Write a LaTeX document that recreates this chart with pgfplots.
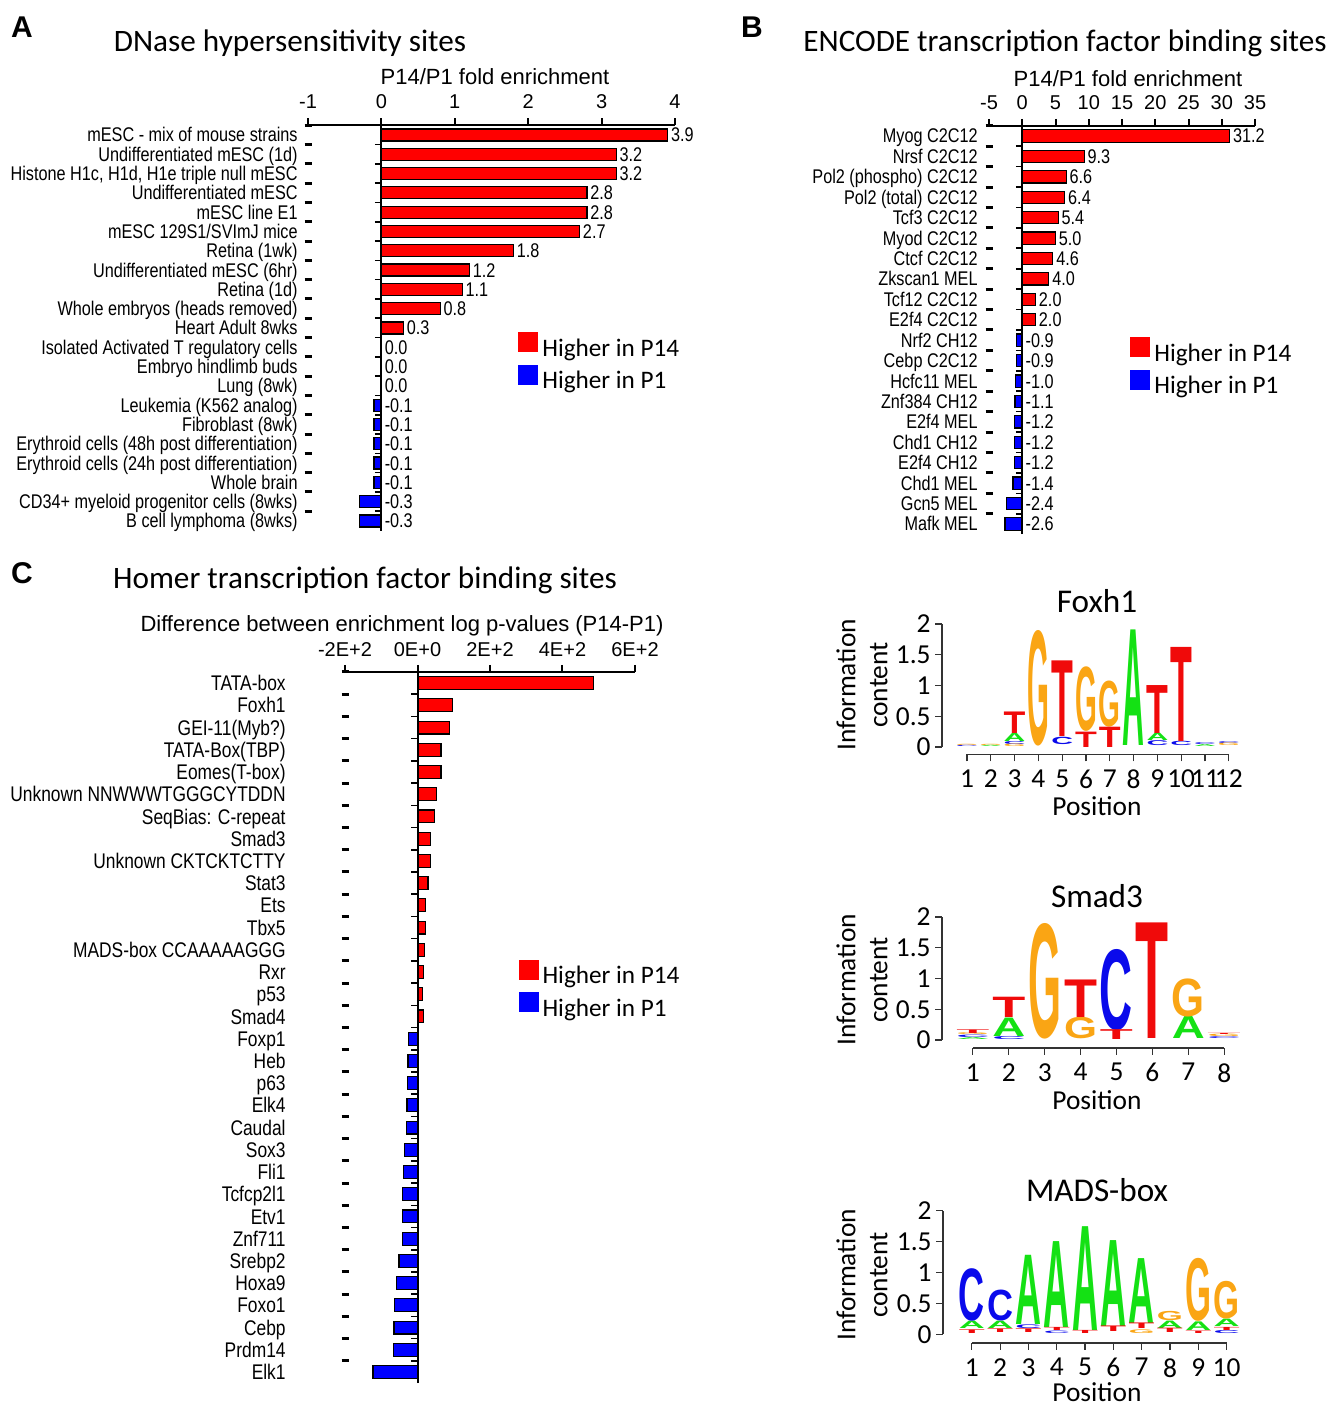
\documentclass[border=0pt]{standalone}
\usepackage{pgfplots}
\pgfplotsset{compat=1.18}
\usepackage{pgfplotstable}
\usepackage{graphicx}
\usepackage{fontspec}
\setmainfont{Liberation Sans}
\newfontfamily\narrow{Liberation Sans}[FakeStretch=0.82]
\newfontfamily\calib{Carlito}

\newcommand\labfont{\narrow\fontsize{9.9}{11}\selectfont}
\newcommand\labfontC{\narrow\fontsize{10.6}{12}\selectfont}
\newcommand\tickfont{\fontsize{10}{12}\selectfont}
\newcommand\axlabfont{\fontsize{11}{13}\selectfont}
\newcommand\legfont{\calib\fontsize{12.6}{14}\selectfont}
\newcommand\titlefont{\calib\fontsize{15.6}{18}\selectfont}
\newcommand\logotick{\calib\fontsize{13.7}{16}\selectfont}
\newcommand\logotitle{\calib\fontsize{16.6}{19}\selectfont}
\newcommand\panelfont{\bfseries\fontsize{15}{18}\selectfont}

\definecolor{barred}{RGB}{255,0,0}
\definecolor{barblue}{RGB}{0,0,255}
\definecolor{ltA}{RGB}{20,225,20}
\definecolor{ltC}{RGB}{10,10,235}
\definecolor{ltG}{RGB}{250,165,20}
\definecolor{ltT}{RGB}{240,10,10}

% one stretched base letter of a sequence logo; its height (bits) is the point meta
\newcommand\logoglyph[3]{\resizebox*{#1}{\pgfplotspointmeta\dimexpr#2\relax}{\textcolor{lt#3}{\bfseries #3}}}
% all four bases of one logo table: #1 table, #2 letter width, #3 length of one bit
\newcommand\logostack[3]{%
  \addplot[letters, restrict expr to domain={\thisrow{n}}{1:1}, nodes near coords={\logoglyph{#2}{#3}{A}}] table[x=x, y=y0, meta=h] #1;
  \addplot[letters, restrict expr to domain={\thisrow{n}}{2:2}, nodes near coords={\logoglyph{#2}{#3}{C}}] table[x=x, y=y0, meta=h] #1;
  \addplot[letters, restrict expr to domain={\thisrow{n}}{3:3}, nodes near coords={\logoglyph{#2}{#3}{G}}] table[x=x, y=y0, meta=h] #1;
  \addplot[letters, restrict expr to domain={\thisrow{n}}{4:4}, nodes near coords={\logoglyph{#2}{#3}{T}}] table[x=x, y=y0, meta=h] #1;
}

% ---------- bar data (y = row from the bottom, v = value) ----------
\pgfplotstableread{
y v
20 3.9
19 3.2
18 3.2
17 2.8
16 2.8
15 2.7
14 1.8
13 1.2
12 1.1
11 0.8
10 0.3
9 0.0
8 0.0
7 0.0
6 -0.1
5 -0.1
4 -0.1
3 -0.1
2 -0.1
1 -0.3
0 -0.3
}\dnase

\pgfplotstableread{
y v
19 31.2
18 9.3
17 6.6
16 6.4
15 5.4
14 5.0
13 4.6
12 4.0
11 2.0
10 2.0
9 -0.9
8 -0.9
7 -1.0
6 -1.1
5 -1.2
4 -1.2
3 -1.2
2 -1.4
1 -2.4
0 -2.6
}\encode

\pgfplotstableread{
y v
31 485
30 96
29 89
28 65
27 65
26 53
25 46
24 36
23 36
22 29
21 22
20 22
19 20
18 17
17 14
16 16
15 -25
14 -26
13 -27
12 -29
11 -31
10 -36
9 -39
8 -41
7 -41
6 -41
5 -51
4 -58
3 -63
2 -65
1 -67
0 -123
}\homer

% ---------- logo stacks: x = position, y0 = base, h = height (bits), n = base (1 A, 2 C, 3 G, 4 T) ----------
\pgfplotstableread{
x y0 h n
1 0.00 0.02 2
1 0.02 0.02 3
2 0.00 0.02 1
2 0.02 0.02 3
3 0.00 0.04 3
3 0.04 0.05 2
3 0.09 0.13 1
3 0.22 0.35 4
4 0.02 1.88 3
5 0.04 0.12 2
5 0.17 1.23 4
6 0.00 0.25 4
6 0.25 1.05 3
7 0.00 0.33 4
7 0.33 0.75 3
8 0.02 1.88 1
9 0.02 0.08 2
9 0.10 0.12 1
9 0.22 0.78 4
10 0.02 0.07 2
10 0.09 1.53 4
11 0.01 0.03 1
11 0.04 0.03 2
12 0.02 0.04 3
12 0.06 0.03 2
}\foxh

\pgfplotstableread{
x y0 h n
1 0.01 0.03 1
1 0.04 0.04 2
1 0.08 0.03 3
1 0.11 0.06 4
2 0.01 0.05 2
2 0.06 0.30 1
2 0.36 0.33 4
3 0.02 1.88 3
4 0.02 0.35 3
4 0.37 0.61 4
5 0.00 0.16 4
5 0.16 1.32 2
6 0.02 1.88 4
7 0.02 0.36 1
7 0.38 0.62 3
8 0.02 0.03 2
8 0.05 0.04 3
8 0.09 0.02 4
}\smad

\pgfplotstableread{
x y0 h n
1 0.02 0.06 4
1 0.10 0.12 1
1 0.22 0.85 2
2 0.03 0.06 4
2 0.10 0.12 1
2 0.22 0.50 2
3 0.03 0.06 4
3 0.10 0.06 2
3 0.16 1.12 1
4 0.02 0.04 2
4 0.06 0.05 4
4 0.11 1.39 1
5 0.02 0.05 4
5 0.07 1.68 1
6 0.04 0.09 4
6 0.13 1.39 1
7 0.02 0.06 3
7 0.09 0.09 4
7 0.18 1.05 1
8 0.03 0.07 4
8 0.10 0.12 1
8 0.23 0.15 3
9 0.02 0.04 4
9 0.07 0.14 1
9 0.21 1.02 3
10 0.02 0.05 2
10 0.07 0.05 4
10 0.12 0.12 1
10 0.24 0.61 3
}\mads

\pgfplotsset{
  barpanel/.style={
    scale only axis, anchor=south west, clip=false,
    axis x line=top, axis y line=left,
    axis line style={-}, y axis line style={draw=none},
    x axis line style={line width=1pt},
    tick align=outside, major tick length=3.5pt,
    major x tick style={line width=1pt, black},
    major y tick style={draw=none},
    minor tick length=3.5pt,
    minor y tick style={line width=1.5pt, black, xshift=1.75pt},
    xticklabel style={font=\tickfont, inner sep=0pt, yshift=4.5pt},
    yticklabel style={anchor=east, inner sep=0pt, xshift=-1.5pt, text height=7pt, text depth=0pt},
    /pgf/number format/assume math mode=true,
    legend cell align=left,
    legend image code/.code={\fill[##1, draw=none] (0pt,-1.5pt) rectangle (10pt,8.5pt);},
  },
  zeroline/.style={
    scale only axis, anchor=south west,
    axis x line=none, axis y line=middle,
    axis line style={-, line width=1pt, black},
    yticklabels={}, tick align=center, major tick length=3.5pt,
    major y tick style={line width=0.8pt, black, xshift=-1.5pt},
  },
  redbars/.style={xbar, fill=barred, draw=black, line width=0.6pt, restrict x to domain=0:1000},
  bluebars/.style={xbar, fill=barblue, draw=black, line width=0.6pt, restrict x to domain=-1000:-0.0001},
  valuelabels/.style={draw=none, mark=none, forget plot,
    nodes near coords, point meta=explicit symbolic,
    every node near coord/.append style={anchor=west, font=\labfont, inner sep=1.5pt, text=black,
      text height=7pt, text depth=0pt}},
  logopanel/.style={
    anchor=south west, clip=false,
    axis x line=bottom, axis y line=left, axis line style={draw=none},
    tick align=outside, major tick length=3.5pt,
    tick style={line width=0.6pt, black!80},
    ticklabel style={font=\logotick},
    xticklabel style={inner sep=0pt, yshift=-4pt},
    yticklabel style={inner sep=0pt, xshift=-2pt},
    ytick={0,0.5,1,1.5,2},
    /pgf/number format/assume math mode=true,
  },
  letters/.style={draw=none, mark=none, forget plot, point meta=explicit symbolic,
    every node near coord/.append style={anchor=south, inner sep=0pt, outer sep=0pt}},
  barlegend/.style={legend style={at={#1}, anchor=north west, draw=none, fill=none,
    font=\legfont, row sep=0.5pt, inner sep=0pt}},
}

\begin{document}
\begin{tikzpicture}
\path[use as bounding box] (0,0) rectangle (666.5pt,703pt);

% ================= A: DNase hypersensitivity sites =================
\node[font=\panelfont] at (11pt,689.5pt) {A};
\node[font=\titlefont] at (145pt,681.5pt) {DNase hypersensitivity sites};
\node[font=\axlabfont] at (247.5pt,664.5pt) {P14/P1 fold enrichment};
\begin{axis}[barpanel,
  at={(154pt,437.7pt)}, width=183.5pt, height=202.65pt,
  xmin=-1, xmax=4, ymin=-0.5, ymax=20.5,
  xtick={-1,0,1,2,3,4},
  ytick={0,...,20}, minor ytick={0.5,1.5,...,20.5},
  yticklabel style={font=\labfont},
  yticklabels={B cell lymphoma (8wks), CD34+ myeloid progenitor cells (8wks), Whole brain,
    Erythroid cells (24h post differentiation), Erythroid cells (48h post differentiation),
    Fibroblast (8wk), Leukemia (K562 analog), Lung (8wk), Embryo hindlimb buds,
    Isolated Activated T regulatory cells, Heart Adult 8wks, Whole embryos (heads removed),
    Retina (1d), Undifferentiated mESC (6hr), Retina (1wk), mESC 129S1/SVImJ mice,
    mESC line E1, Undifferentiated mESC, {Histone H1c, H1d, H1e triple null mESC},
    Undifferentiated mESC (1d), mESC - mix of mouse strains},
  bar width=0.62,
  barlegend={(0.572,0.49)},
]
\addplot[redbars] table[x=v, y=y] \dnase;
\addlegendentry{Higher in P14}
\addplot[bluebars] table[x=v, y=y] \dnase;
\addlegendentry{Higher in P1}
\addplot[valuelabels] table[x expr={max(\thisrow{v},0)}, y=y, meta=v] \dnase;
\end{axis}
\begin{axis}[zeroline,
  at={(154pt,437.7pt)}, width=183.5pt, height=202.65pt,
  xmin=-1, xmax=4, ymin=-0.5, ymax=20.5,
  ytick={0.5,1.5,...,20.5}]
\end{axis}

% ================= B: ENCODE transcription factor binding sites =================
\node[font=\panelfont] at (376pt,689.5pt) {B};
\node[font=\titlefont] at (532.5pt,681.5pt) {ENCODE transcription factor binding sites};
\node[font=\axlabfont] at (564pt,663.5pt) {P14/P1 fold enrichment};
\begin{axis}[barpanel,
  at={(494.5pt,435.9pt)}, width=133pt, height=204.2pt,
  xmin=-5, xmax=35, ymin=-0.5, ymax=19.5,
  xtick={-5,0,5,...,35},
  ytick={0,...,19}, minor ytick={0.5,1.5,...,19.5},
  yticklabel style={font=\labfont, xshift=-0.5pt},
  yticklabels={Mafk MEL, Gcn5 MEL, Chd1 MEL, E2f4 CH12, Chd1 CH12, E2f4 MEL, Znf384 CH12,
    Hcfc11 MEL, Cebp C2C12, Nrf2 CH12, E2f4 C2C12, Tcf12 C2C12, Zkscan1 MEL, Ctcf C2C12,
    Myod C2C12, Tcf3 C2C12, Pol2 (total) C2C12, Pol2 (phospho) C2C12, Nrsf C2C12, Myog C2C12},
  bar width=0.6,
  barlegend={(0.53,0.483)},
]
\addplot[redbars] table[x=v, y=y] \encode;
\addlegendentry{Higher in P14}
\addplot[bluebars] table[x=v, y=y] \encode;
\addlegendentry{Higher in P1}
\addplot[valuelabels] table[x expr={max(\thisrow{v},0)}, y=y, meta=v] \encode;
\end{axis}
\begin{axis}[zeroline,
  at={(494.5pt,435.9pt)}, width=133pt, height=204.2pt,
  xmin=-5, xmax=35, ymin=-0.5, ymax=19.5,
  ytick={0.5,1.5,...,19.5}]
\end{axis}

% ================= C: Homer transcription factor binding sites =================
\node[font=\panelfont] at (11pt,416.5pt) {C};
\node[font=\titlefont] at (182.5pt,413pt) {Homer transcription factor binding sites};
\node[font=\axlabfont] at (201pt,390pt) {Difference between enrichment log p-values (P14-P1)};
\begin{axis}[barpanel,
  at={(172.5pt,11.45pt)}, width=145pt, height=355.55pt,
  xmin=-200, xmax=600, ymin=-0.5, ymax=31.5,
  xtick={-200,0,200,400,600},
  xticklabels={-2E+2,0E+0,2E+2,4E+2,6E+2},
  xticklabel style={yshift=-0.5pt},
  ytick={0,...,31}, minor ytick={0.5,1.5,...,31.5},
  yticklabel style={font=\labfontC, xshift=-24.5pt, text height=7.6pt},
  yticklabels={Elk1, Prdm14, Cebp, Foxo1, Hoxa9, Srebp2, Znf711, Etv1, Tcfcp2l1, Fli1, Sox3,
    Caudal, Elk4, p63, Heb, Foxp1, Smad4, p53, Rxr, MADS-box CCAAAAAGGG, Tbx5, Ets, Stat3,
    Unknown CKTCKTCTTY, Smad3, SeqBias: C-repeat, Unknown NNWWWTGGGCYTDDN, Eomes(T-box),
    TATA-Box(TBP), GEI-11(Myb?), Foxh1, TATA-box},
  bar width=0.58,
  barlegend={(0.597,0.596)},
]
\addplot[redbars] table[x=v, y=y] \homer;
\addlegendentry{Higher in P14}
\addplot[bluebars] table[x=v, y=y] \homer;
\addlegendentry{Higher in P1}
\end{axis}
\begin{axis}[zeroline,
  at={(172.5pt,11.45pt)}, width=145pt, height=355.55pt,
  xmin=-200, xmax=600, ymin=-0.5, ymax=31.5,
  ytick={0.5,1.5,...,31.5}]
\end{axis}

% ================= sequence logos =================
% Foxh1
\node[font=\logotitle] at (548.5pt,402.5pt) {Foxh1};
\node[font=\logotick] at (548.5pt,300pt) {Position};
\node[font=\logotick, rotate=90, align=center] at (431pt,360.5pt) {Information\\content};
\begin{axis}[logopanel,
  at={(471pt,325.8pt)}, x=11.9pt, y=30.75pt,
  xmin=-0.05, xmax=12.5, ymin=-0.12, ymax=2,
  xtick={1,...,12}]
\addplot[black!80, line width=0.6pt, forget plot] coordinates {(1,-0.12) (12,-0.12)};
\addplot[black!80, line width=0.6pt, forget plot] coordinates {(-0.05,0) (-0.05,2)};
\logostack{\foxh}{10.9pt}{30.75pt}
\end{axis}

% Smad3
\node[font=\logotitle] at (548.5pt,255pt) {Smad3};
\node[font=\logotick] at (548.5pt,153pt) {Position};
\node[font=\logotick, rotate=90, align=center] at (431pt,213pt) {Information\\content};
\begin{axis}[logopanel,
  at={(471pt,179pt)}, x=17.95pt, y=30.75pt,
  xmin=0.14, xmax=8.5, ymin=-0.13, ymax=2,
  xtick={1,...,8}]
\addplot[black!80, line width=0.6pt, forget plot] coordinates {(1,-0.13) (8,-0.13)};
\addplot[black!80, line width=0.6pt, forget plot] coordinates {(0.14,0) (0.14,2)};
\logostack{\smad}{16.5pt}{30.75pt}
\end{axis}

% MADS-box
\node[font=\logotitle] at (548.5pt,108pt) {MADS-box};
\node[font=\logotick] at (548.5pt,7pt) {Position};
\node[font=\logotick, rotate=90, align=center] at (431pt,65.5pt) {Information\\content};
\begin{axis}[logopanel,
  at={(471.5pt,31.5pt)}, x=14.15pt, y=30.9pt,
  xmin=-0.02, xmax=10.5, ymin=-0.14, ymax=2,
  xtick={1,...,10}]
\addplot[black!80, line width=0.6pt, forget plot] coordinates {(1,-0.14) (10,-0.14)};
\addplot[black!80, line width=0.6pt, forget plot] coordinates {(-0.02,0) (-0.02,2)};
\logostack{\mads}{13pt}{30.9pt}
\end{axis}
\end{tikzpicture}
\end{document}
